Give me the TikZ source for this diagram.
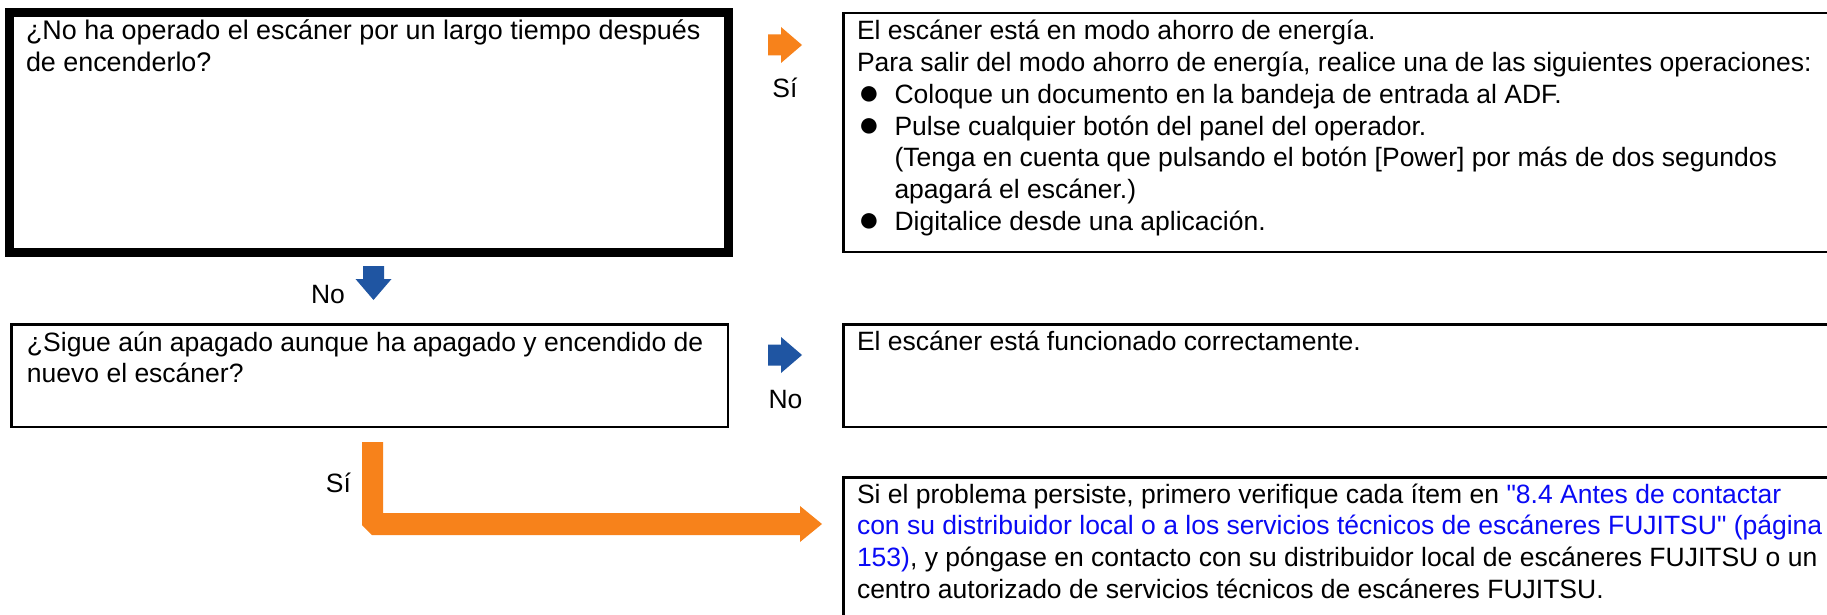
\documentclass[tikz,border=0pt]{standalone}
\usepackage{fontspec}
\setmainfont{Liberation Sans}
\newfontfamily\fjplain{Liberation Sans}
\usepackage{xcolor}
\definecolor{fjorange}{HTML}{F7821B}
\definecolor{fjblue}{HTML}{1F55A2}
\definecolor{fjlink}{HTML}{0A0AF5}
\newcommand\fjbul{\makebox[37.5pt][l]{\kern1pt\smash{\raisebox{-1.5pt}{\fontsize{36}{31.7}\selectfont ●}}}}
\newcommand\fjind{\hspace*{37.5pt}}
\newcommand\fjq{{\fjplain"}}
\newcommand\fjarrowR[3]{\fill[#3] (#1,#2) ++(0,-10.5) -- ++(13,0) -- ++(0,-7.5) -- ++(21,18) -- ++(-21,18) -- ++(0,-7.5) -- ++(-13,0) -- cycle;}
\begin{document}
\begin{tikzpicture}[x=1pt,y=-1pt,
  thickbox/.style={draw=black, line width=9pt, inner sep=0pt, outer sep=0pt, anchor=north west},
  thinbox/.style={draw=black, line width=2.5pt, inner sep=0pt, outer sep=0pt, anchor=north west},
  txt/.style={inner sep=0pt, outer sep=0pt, anchor=base west, font=\fontsize{26.5}{31.7}\selectfont},
  lbl/.style={inner sep=0pt, outer sep=0pt, anchor=base, font=\fontsize{26.5}{31.7}\selectfont}]
\useasboundingbox (0,0) rectangle (1827,615);
\fill[white] (0,0) rectangle (1827,615);
% boxes
\node[thickbox, minimum width=719pt, minimum height=240pt] (q1) at (9.5,12.5) {};
\node[thinbox, minimum width=1000pt, minimum height=238.5pt] (a1) at (843.25,13.25) {};
\node[thinbox, minimum width=716.5pt, minimum height=102.5pt] (q2) at (11.25,324.25) {};
\node[thinbox, minimum width=1000pt, minimum height=102.5pt] (a2) at (843.25,324.25) {};
\node[thinbox, minimum width=1000pt, minimum height=160pt] (a3) at (843.25,477.25) {};
% texts
\node[txt] (t1) at (26,40) {\fontsize{26.9}{31.7}\selectfont\begin{tabular}[t]{@{}l@{}}¿No ha operado el escáner por un largo tiempo después\\de encenderlo?\end{tabular}};
\node[txt] (t2) at (857,40) {\begin{tabular}[t]{@{}l@{}}El escáner está en modo ahorro de energía.\\
Para salir del modo ahorro de energía, realice una de las siguientes operaciones:\\
\fjbul Coloque un documento en la bandeja de entrada al ADF.\\
\fjbul Pulse cualquier botón del panel del operador.\\
\fjind (Tenga en cuenta que pulsando el botón [Power] por más de dos segundos\\
\fjind apagará el escáner.)\\
\fjbul Digitalice desde una aplicación.\end{tabular}};
\node[txt] (t3) at (27,351) {\begin{tabular}[t]{@{}l@{}}¿Sigue aún apagado aunque ha apagado y encendido de\\nuevo el escáner?\end{tabular}};
\node[txt] (t4) at (857,350) {El escáner está funcionado correctamente.};
\node[txt] (t5) at (857,503) {\begin{tabular}[t]{@{}l@{}}Si el problema persiste, primero verifique cada ítem en {\color{fjlink}\fjq 8.4 Antes de contactar}\\
{\color{fjlink}con su distribuidor local o a los servicios técnicos de escáneres FUJITSU\fjq{} (página}\\
{\color{fjlink}153)}, y póngase en contacto con su distribuidor local de escáneres FUJITSU o un\\
centro autorizado de servicios técnicos de escáneres FUJITSU.\end{tabular}};
% labels
\node[lbl] (l1) at (785,98) {Sí};
\node[lbl] (l2) at (328,303) {No};
\node[lbl] (l3) at (785.5,408) {No};
\node[lbl] (l4) at (338.5,492) {Sí};
% block arrows
\fjarrowR{768}{45}{fjorange}
\fjarrowR{768}{355}{fjblue}
\fill[fjblue] (363,266) -- (384,266) -- (384,279) -- (391.5,279) -- (373.5,300) -- (355.5,279) -- (363,279) -- cycle;
\fill[fjorange] (362,442) -- (383,442) -- (383,513) -- (800,513) -- (800,506) -- (822,524) -- (800,542) -- (800,535) -- (372,535) -- (362,525) -- cycle;
\end{tikzpicture}
\end{document}
